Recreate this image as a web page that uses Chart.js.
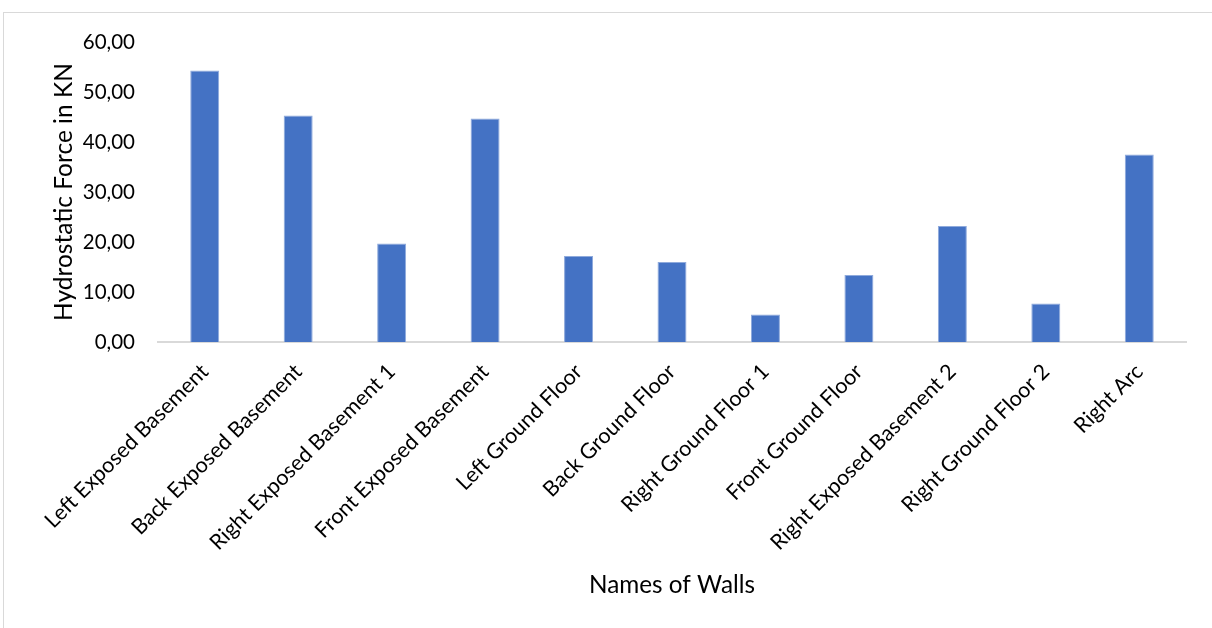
<!DOCTYPE html>
<html>
<head>
<meta charset="utf-8">
<script src="https://cdn.jsdelivr.net/npm/chart.js@4.4.1/dist/chart.umd.min.js"></script>
<style>
  html, body { margin: 0; padding: 0; background: #ffffff; }
  body { width: 1212px; height: 628px; position: relative; overflow: hidden; }
  #frame { position: absolute; left: 3px; top: 12px; width: 1300px; height: 700px; border: 1px solid #d9d9d9; box-sizing: border-box; }
  #wrap { position: absolute; left: 0; top: 0; width: 1212px; height: 628px; }
</style>
</head>
<body>
<div id="frame"></div>
<div id="wrap"><canvas id="chart" width="1212" height="628"></canvas></div>
<script>
// Wall names along the category axis
const walls = [
  'Left Exposed Basement',
  'Back Exposed Basement',
  'Right Exposed Basement 1',
  'Front Exposed Basement',
  'Left Ground Floor',
  'Back Ground Floor',
  'Right Ground Floor 1',
  'Front Ground Floor',
  'Right Exposed Basement 2',
  'Right Ground Floor 2',
  'Right Arc'
];

// Hydrostatic force on each wall, kN
const forceKN = [54.3, 45.3, 19.7, 44.7, 17.2, 16.0, 5.5, 13.4, 23.2, 7.7, 37.5];

// Value axis ticks
const yTicks = [0, 10, 20, 30, 40, 50, 60];

const FONT = 'Lato';

new Chart(document.getElementById('chart'), {
  type: 'bar',
  data: {
    labels: walls,
    datasets: [{
      data: forceKN,
      backgroundColor: '#4472C4',
      borderColor: '#8faadc',
      borderWidth: { left: 1, right: 1, top: 1, bottom: 0 },
      barPercentage: 0.31,
      categoryPercentage: 1.0
    }]
  },
  options: {
    responsive: false,
    animation: false,
    devicePixelRatio: 1,
    layout: { padding: { left: 46, top: 42, right: 26, bottom: 20 } },
    plugins: {
      legend: { display: false },
      tooltip: { enabled: false },
      title: { display: false }
    },
    scales: {
      x: {
        grid: { display: false, drawTicks: false },
        border: { display: true, color: '#d9d9d9', width: 2 },
        ticks: {
          color: '#000000',
          font: { family: FONT, size: 21.5 },
          minRotation: 45,
          maxRotation: 45,
          padding: 17,
          autoSkip: false
        },
        title: {
          display: true,
          text: 'Names of Walls',
          color: '#000000',
          font: { family: FONT, size: 24.3 },
          padding: { top: 0, bottom: 8 }
        },
        afterFit: (scale) => { scale.height = 608 - 342; }
      },
      y: {
        min: yTicks[0],
        max: yTicks[yTicks.length - 1],
        grid: { display: false, drawTicks: false },
        border: { display: false },
        afterBuildTicks: (scale) => { scale.ticks = yTicks.map(v => ({ value: v })); },
        ticks: {
          color: '#000000',
          font: { family: FONT, size: 20.5 },
          padding: 23,
          callback: (v) => Number(v).toFixed(2).replace('.', ',')
        },
        title: {
          display: true,
          text: 'Hydrostatic Force in KN',
          color: '#000000',
          font: { family: FONT, size: 24.5 },
          padding: { top: 3, bottom: 0 }
        },
        afterFit: (scale) => { scale.width = 158 - 46; }
      }
    }
  }
});
</script>
</body>
</html>
